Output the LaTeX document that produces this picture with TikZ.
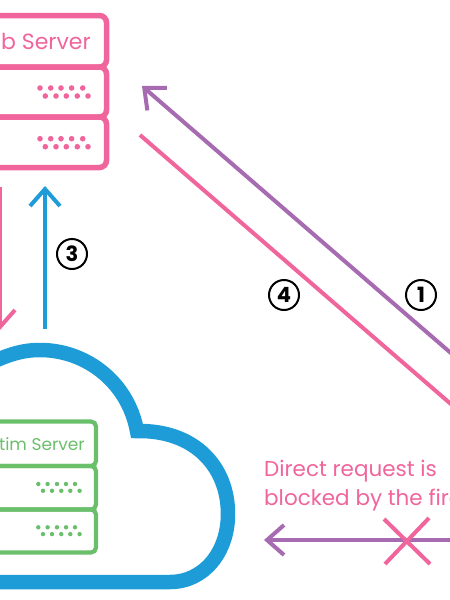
\documentclass[tikz,border=0pt]{standalone}
\usepackage{fontspec}
\setmainfont{Poppins}
\usetikzlibrary{arrows.meta,positioning}
\definecolor{webpink}{HTML}{F0659B}
\definecolor{reqpurple}{HTML}{A66BB0}
\definecolor{cloudblue}{HTML}{1E9CD8}
\definecolor{victimgreen}{HTML}{6ABF6B}
\tikzset{
  webrow/.style={draw=webpink, line width=5.5pt, rounded corners=7pt, minimum width=180pt, inner sep=0pt, outer sep=0pt, anchor=north east},
  victimrow/.style={draw=victimgreen, line width=4.2pt, rounded corners=5pt, minimum width=170pt, inner sep=0pt, outer sep=0pt, anchor=north east},
  flow/.style={line width=4pt, -{Straight Barb[length=17pt,width=30pt]}},
  stepmark/.style={circle, draw=black, line width=2pt, minimum size=30pt, inner sep=0pt, font=\fontsize{21}{21}\selectfont\bfseries},
  cutmark/.style={draw=webpink, line width=4pt}
}
\begin{document}
\begin{tikzpicture}[x=1pt,y=-1pt]
\useasboundingbox (0,0) rectangle (450,600);
\clip (0,0) rectangle (450,600);
% web server stack
\node[webrow, minimum height=51.5pt] (webtop) at (106.5,15.5) {};
\node[webrow, minimum height=50pt] (webmid) at (106.5,67) {};
\node[webrow, minimum height=50.5pt] (webbot) at (106.5,117) {};
\node[anchor=base east, inner sep=0pt, text=webpink, font=\fontsize{22}{22}\selectfont] (webname) at (91,49) {Web Server};
\foreach \y in {88,138.7} {
  \foreach \x in {40,50.7,61,71.6,82.7}
    \fill[webpink] (\x,\y) circle (2.8pt);
  \foreach \x in {45.3,56,66.3,77.3,88}
    \fill[webpink] (\x,\y+8) circle (2.8pt);
}
% cloud
\draw[cloudblue, line width=14.5pt, miter limit=10] (-30,582) -- (170,582)
  .. controls (204,582) and (228,552) .. (228,514)
  .. controls (228,467) and (195,430) .. (137,431)
  .. controls (128,382) and (86,350) .. (40,350)
  .. controls (25,350) and (12,353) .. (-10,363);
% victim server stack
\node[victimrow, minimum height=44.5pt] (victop) at (96,421.5) {};
\node[victimrow, minimum height=43.5pt] (vicmid) at (96,466) {};
\node[victimrow, minimum height=43pt] (vicbot) at (96,509.5) {};
\node[anchor=base east, inner sep=0pt, text=victimgreen, font=\fontsize{17}{17}\selectfont] (vicname) at (85,450) {Victim Server};
\foreach \y in {484,527.3} {
  \foreach \x in {38.3,47.6,57,66,75}
    \fill[victimgreen] (\x,\y) circle (2.2pt);
  \foreach \x in {43,52,61.3,70.3,79.6}
    \fill[victimgreen] (\x,\y+6.8) circle (2.2pt);
}
% ends of the arrows
\coordinate (reqstart) at (452,354);
\coordinate (reqend) at (142,86);
\coordinate (backstart) at (140,135);
\coordinate (backend) at (452,405);
\coordinate (downstart) at (0,187);
\coordinate (downend) at (0,330);
\coordinate (upstart) at (45,329);
\coordinate (upend) at (45,186);
\coordinate (blockstart) at (452,540);
\coordinate (blockend) at (264,540);
\coordinate (cutnw) at (384,519);
\coordinate (cutse) at (430,564);
\coordinate (cutne) at (429,518);
\coordinate (cutsw) at (385,564);
\draw[flow, reqpurple] (reqstart) -- (reqend);
\draw[webpink, line width=4pt] (backstart) -- (backend);
\draw[flow, webpink] (downstart) -- (downend);
\draw[flow, cloudblue] (upstart) -- (upend);
\draw[flow, reqpurple] (blockstart) -- (blockend);
\draw[cutmark] (cutnw) -- (cutse);
\draw[cutmark] (cutne) -- (cutsw);
% numbers
\node[stepmark] (stepthree) at (72,254) {3};
\node[stepmark] (stepfour) at (284,295) {4};
\node[stepmark] (stepone) at (421,295) {1};
\node[anchor=base west, inner sep=0pt, text=webpink, font=\fontsize{21.5}{21.5}\selectfont] (blocktop) at (264,476) {Direct request is};
\node[anchor=base west, inner sep=0pt, text=webpink, font=\fontsize{21.5}{21.5}\selectfont] (blockbot) at (264,505) {blocked by the firewall};
\end{tikzpicture}
\end{document}
